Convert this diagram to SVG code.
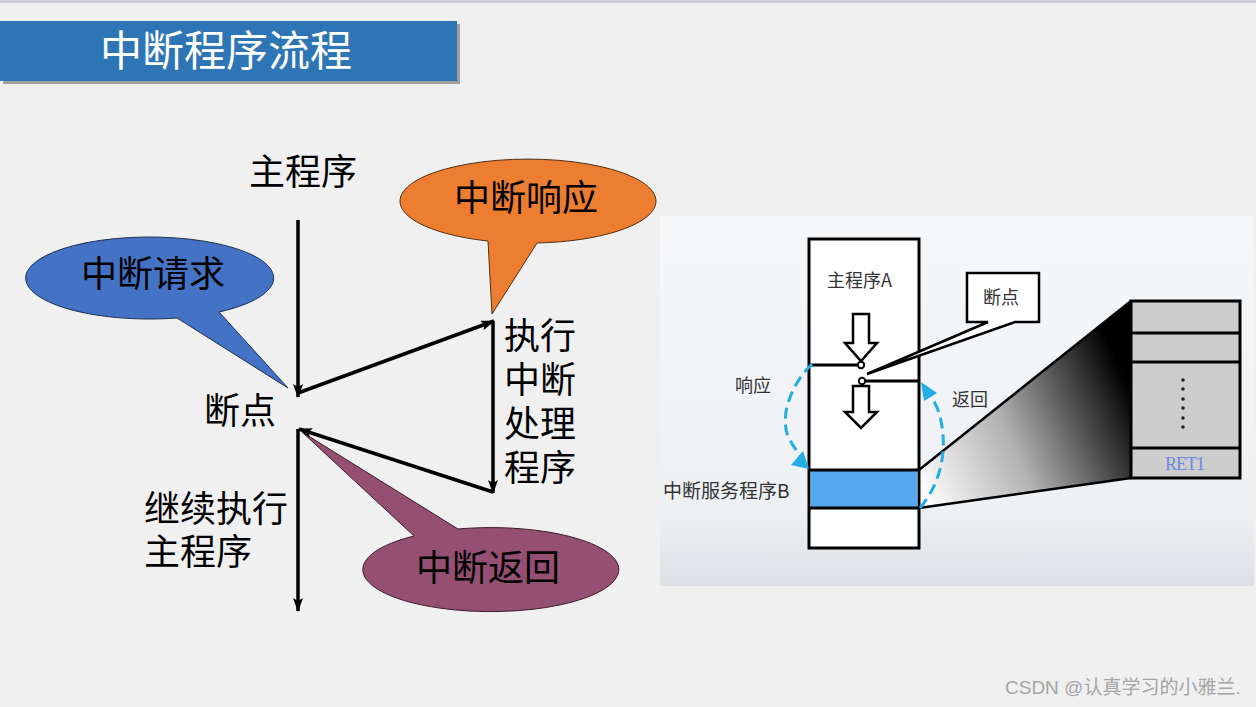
<svg xmlns="http://www.w3.org/2000/svg" width="1256" height="707" viewBox="0 0 1256 707">
<defs>
<style>
.cn{font-family:"Noto Sans CJK SC","Liberation Sans",sans-serif;fill:#000}
.big{font-size:36px}
.sm{font-size:18px;fill:#333}
.ln{stroke:#000;stroke-width:3.5;fill:none}
.blk{stroke:#000;stroke-width:3}
.dash{stroke:#22ADE6;stroke-width:3;fill:none;stroke-dasharray:11 6}
</style>
<marker id="ah" viewBox="0 0 14 10" refX="13" refY="5" markerWidth="14" markerHeight="10" orient="auto" markerUnits="userSpaceOnUse">
<path d="M0,0 L14,5 L0,10 L3,5 z" fill="#000"/>
</marker>
<linearGradient id="bg" x1="0" y1="0" x2="0" y2="1">
<stop offset="0" stop-color="#F5F7F9"/>
<stop offset="0.8" stop-color="#EEF1F4"/>
<stop offset="1" stop-color="#DCE0E4"/>
</linearGradient>
<linearGradient id="wedge" x1="919" y1="490" x2="1131" y2="390" gradientUnits="userSpaceOnUse">
<stop offset="0" stop-color="#FFFFFF"/>
<stop offset="0.45" stop-color="#B0B0B0"/>
<stop offset="1" stop-color="#000000"/>
</linearGradient>
</defs>
<rect width="1256" height="707" fill="#F0F0F0"/>
<line x1="0" y1="1.5" x2="1256" y2="1.5" stroke="#CDD0D8" stroke-width="3"/>

<g id="title">
<rect x="3" y="24" width="457" height="60" fill="#A0A0A0"/>
<rect x="0" y="21" width="457" height="60" fill="#2E75B6"/>
<text x="100" y="66" class="cn" style="font-size:42px;fill:#fff">中断程序流程</text>
</g>

<g id="labels">
<text x="249" y="185" class="cn big">主程序</text>
<text x="204" y="424" class="cn big">断点</text>
<text class="cn big"><tspan x="504" y="349">执行</tspan><tspan x="504" y="393">中断</tspan><tspan x="504" y="437">处理</tspan><tspan x="504" y="481">程序</tspan></text>
<text class="cn big"><tspan x="144" y="522">继续执行</tspan><tspan x="144" y="565">主程序</tspan></text>
</g>

<g id="balloon-request">
<path d="M177,318 A124,41 0 1 1 219,312 L288,388 Z" fill="#4472C4" stroke="#1F2F4F" stroke-width="1"/>
<text x="81" y="287" class="cn big">中断请求</text>
</g>
<g id="balloon-response">
<path d="M488,241 A128,42 0 1 1 537,243 L492,314 Z" fill="#ED7D31" stroke="#4F2F10" stroke-width="1"/>
<text x="454" y="211" class="cn big">中断响应</text>
</g>
<g id="balloon-return">
<path d="M414,536 A128,42 0 1 0 458,529 L302,432 Z" fill="#954F72" stroke="#3A1F2C" stroke-width="1"/>
<text x="416" y="581" class="cn big">中断返回</text>
</g>

<g id="connectors">
<line x1="298" y1="220" x2="298" y2="397" class="ln" marker-end="url(#ah)"/>
<line x1="298" y1="393" x2="494" y2="321" class="ln" marker-end="url(#ah)"/>
<line x1="493" y1="321" x2="493" y2="493" class="ln" marker-end="url(#ah)"/>
<line x1="493" y1="492" x2="299" y2="429" class="ln" marker-end="url(#ah)"/>
<line x1="298" y1="429" x2="298" y2="611" class="ln" marker-end="url(#ah)"/>
</g>

<g id="figure">
<rect x="660" y="216" width="594" height="370" fill="url(#bg)"/>
<polygon points="919,470 1131,301 1131,478 919,508" fill="url(#wedge)"/>
<line x1="919" y1="470" x2="1131" y2="301" stroke="#000" stroke-width="2.5"/>
<line x1="919" y1="508" x2="1131" y2="478" stroke="#000" stroke-width="2.5"/>
<g id="stack">
<rect x="1131" y="301" width="109" height="177" fill="#CDCDCD" class="blk"/>
<line x1="1131" y1="333" x2="1240" y2="333" class="blk"/>
<line x1="1131" y1="362" x2="1240" y2="362" class="blk"/>
<line x1="1131" y1="448" x2="1240" y2="448" class="blk"/>
<g fill="#222">
<circle cx="1183" cy="380" r="1.8"/><circle cx="1183" cy="389" r="1.8"/><circle cx="1183" cy="399" r="1.8"/>
<circle cx="1183" cy="408" r="1.8"/><circle cx="1183" cy="418" r="1.8"/><circle cx="1183" cy="427" r="1.8"/>
</g>
<text x="1165" y="470" style="font-family:'Liberation Serif',serif;font-size:18px;fill:#6A8AE0" textLength="40">RET1</text>
</g>
<g id="program-column">
<rect x="809" y="239" width="110" height="309" fill="#fff" class="blk"/>
<rect x="810.5" y="470" width="107" height="38" fill="#55A9EE"/>
<line x1="809" y1="470" x2="919" y2="470" class="blk"/>
<line x1="809" y1="508" x2="919" y2="508" class="blk"/>
<line x1="809" y1="365" x2="858" y2="365" class="blk"/>
<line x1="865" y1="381" x2="919" y2="381" class="blk"/>
<circle cx="861" cy="365" r="3.2" fill="#fff" stroke="#000" stroke-width="2"/>
<circle cx="862" cy="381" r="3.2" fill="#fff" stroke="#000" stroke-width="2"/>
<path d="M853,314 H869 V343 H877 L861,361 L845,343 H853 Z" fill="#fff" stroke="#000" stroke-width="2.5"/>
<path d="M853,386 H869 V412 H877 L861,428 L845,412 H853 Z" fill="#fff" stroke="#000" stroke-width="2.5"/>
<text x="827" y="287" class="cn sm">主程序A</text>
</g>
<g id="callout-breakpoint">
<path d="M967,273 H1039 V322 H1015 L867,374 L988,322 H967 Z" fill="#fff" stroke="#000" stroke-width="2.5"/>
<text x="983" y="304" class="cn sm">断点</text>
</g>
<g id="arcs">
<path d="M812,364 C790,385 778,420 790,440 C794,448 798,452 801,457" class="dash"/>
<polygon points="809,469 791,465 803,451" fill="#22ADE6"/>
<path d="M920,508 C945,478 948,440 938,410 C935,402 932,398 929,394" class="dash"/>
<polygon points="921,382 937,393 924,401" fill="#22ADE6"/>
<text x="735" y="392" class="cn sm">响应</text>
<text x="952" y="406" class="cn sm">返回</text>
<text x="663" y="498" class="cn sm" style="font-size:19px">中断服务程序B</text>
</g>
</g>

<text x="1005" y="694" style="font-family:'Liberation Sans','Noto Sans CJK SC',sans-serif;font-size:19px;fill:#A5A5A5">CSDN @认真学习的小雅兰.</text>
</svg>
